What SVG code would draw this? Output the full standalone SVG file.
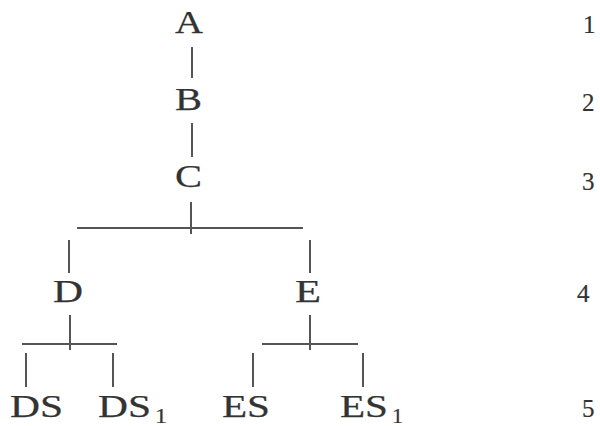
<svg xmlns="http://www.w3.org/2000/svg" width="600" height="426" viewBox="0 0 600 426">
  <style>
    .lbl { font-family: "Liberation Serif", "Times New Roman", serif; font-size: 32px; fill: #333; stroke: #333; stroke-width: 0.25px; }
    .sub { font-family: "Liberation Serif", "Times New Roman", serif; font-size: 20px; fill: #333; stroke: #333; stroke-width: 0.2px; }
    .lvl { font-family: "Liberation Serif", "Times New Roman", serif; font-size: 25px; fill: #333; stroke: #333; stroke-width: 0.2px; }
    .edge { stroke: #555; stroke-width: 2; fill: none; }
  </style>
  <rect width="600" height="426" fill="#fff"/>

  <!-- connectors -->
  <g id="connectors" class="edge">
    <line x1="192" y1="47" x2="192" y2="78"/>
    <line x1="192" y1="123" x2="192" y2="157"/>
    <line x1="191" y1="202" x2="191" y2="234"/>
    <line x1="77" y1="228" x2="303" y2="228"/>
    <line x1="69" y1="240" x2="69" y2="273"/>
    <line x1="310" y1="240" x2="310" y2="273"/>
    <line x1="70" y1="315" x2="70" y2="350"/>
    <line x1="22" y1="344" x2="117" y2="344"/>
    <line x1="310" y1="315" x2="310" y2="350"/>
    <line x1="262" y1="344" x2="358" y2="344"/>
    <line x1="26" y1="353" x2="26" y2="387"/>
    <line x1="113" y1="353" x2="113" y2="387"/>
    <line x1="253" y1="353" x2="253" y2="387"/>
    <line x1="363" y1="353" x2="363" y2="387"/>
  </g>

  <!-- nodes -->
  <g id="node-A"><text class="lbl" x="175" y="33" textLength="28" lengthAdjust="spacingAndGlyphs">A</text></g>
  <g id="node-B"><text class="lbl" x="175" y="110" textLength="27" lengthAdjust="spacingAndGlyphs">B</text></g>
  <g id="node-C"><text class="lbl" x="175" y="187" textLength="27" lengthAdjust="spacingAndGlyphs">C</text></g>
  <g id="node-D"><text class="lbl" x="53" y="302" textLength="30" lengthAdjust="spacingAndGlyphs">D</text></g>
  <g id="node-E"><text class="lbl" x="295" y="302" textLength="26" lengthAdjust="spacingAndGlyphs">E</text></g>
  <g id="node-DS"><text class="lbl" x="10" y="417" textLength="53" lengthAdjust="spacingAndGlyphs">DS</text></g>
  <g id="node-DS1">
    <text class="lbl" x="98" y="417" textLength="53" lengthAdjust="spacingAndGlyphs">DS</text>
    <text class="sub" x="155" y="423" textLength="12" lengthAdjust="spacingAndGlyphs">1</text>
  </g>
  <g id="node-ES"><text class="lbl" x="222" y="417" textLength="48" lengthAdjust="spacingAndGlyphs">ES</text></g>
  <g id="node-ES1">
    <text class="lbl" x="340" y="417" textLength="48" lengthAdjust="spacingAndGlyphs">ES</text>
    <text class="sub" x="392" y="423" textLength="11" lengthAdjust="spacingAndGlyphs">1</text>
  </g>

  <!-- level numbers -->
  <g id="levels">
    <text class="lvl" x="583" y="33">1</text>
    <text class="lvl" x="582" y="111">2</text>
    <text class="lvl" x="582" y="190">3</text>
    <text class="lvl" x="577" y="302">4</text>
    <text class="lvl" x="582" y="417">5</text>
  </g>
</svg>
